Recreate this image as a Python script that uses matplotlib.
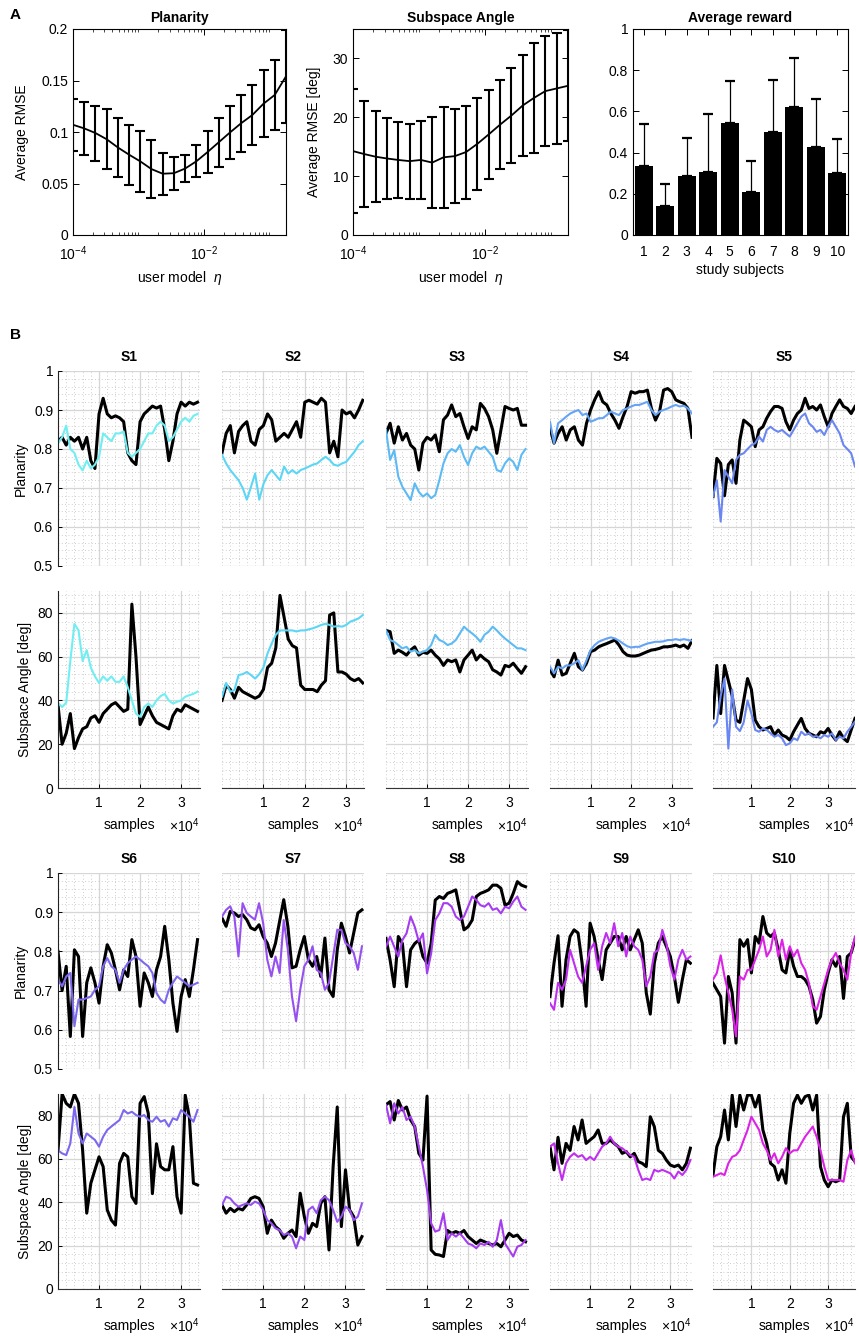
import numpy as np
import matplotlib.pyplot as plt
from matplotlib.ticker import MultipleLocator, FixedLocator, LogLocator, NullFormatter, FuncFormatter

plt.rcParams['font.family'] = ['Liberation Sans', 'DejaVu Sans']
plt.rcParams['mathtext.fontset'] = 'custom'
plt.rcParams['mathtext.rm'] = 'Liberation Sans'
plt.rcParams['mathtext.it'] = 'Liberation Sans:italic'

# ---------------- panel A data ----------------
eta = [1.0e-4, 1.483e-4, 2.201e-4, 3.265e-4, 4.843e-4, 7.185e-4, 1.066e-3, 1.581e-3,
       2.346e-3, 3.480e-3, 5.164e-3, 7.661e-3, 1.137e-2, 1.686e-2, 2.502e-2, 3.711e-2,
       5.506e-2, 8.169e-2, 0.1212, 0.1798]
plan_rmse = [0.107, 0.1035, 0.099, 0.093, 0.085, 0.078, 0.0715, 0.064, 0.0595, 0.060,
             0.0645, 0.0715, 0.0805, 0.090, 0.0995, 0.1085, 0.1165, 0.1275, 0.136, 0.154]
plan_rmse_sd = [0.025, 0.0255, 0.0267, 0.029, 0.029, 0.029, 0.0295, 0.028, 0.0205, 0.016,
                0.0135, 0.0155, 0.0205, 0.024, 0.0255, 0.0275, 0.0295, 0.0325, 0.034, 0.045]
angle_rmse = [14.25, 13.75, 13.3, 13.0, 12.75, 12.55, 12.75, 12.3, 13.2, 13.4,
              14.1, 15.5, 17.1, 18.75, 20.3, 22.0, 23.3, 24.45, 24.9, 25.35]
angle_rmse_sd = [10.55, 8.95, 7.7, 6.9, 6.45, 6.35, 6.7, 7.7, 8.6, 8.0,
                 7.9, 7.8, 7.6, 7.6, 8.0, 8.6, 9.3, 9.35, 9.4, 9.45]
subjects = [1, 2, 3, 4, 5, 6, 7, 8, 9, 10]
reward = [0.337, 0.141, 0.287, 0.308, 0.546, 0.211, 0.502, 0.621, 0.429, 0.301]
reward_sd = [0.203, 0.109, 0.183, 0.277, 0.204, 0.147, 0.252, 0.238, 0.231, 0.167]

# ---------------- panel B data (one value every 1000 samples) ----------------
sample_step = 1000
x_end = [3.46e4, 3.43e4, 3.46e4, 3.5e4, 3.7e4, 3.46e4, 3.45e4, 3.46e4, 3.54e4, 3.7e4]

plan_user_s1 = [0.82, 0.83, 0.81, 0.83, 0.82, 0.83, 0.80, 0.83, 0.77, 0.75, 0.89, 0.93, 0.89, 0.88,
                0.885, 0.88, 0.87, 0.79, 0.77, 0.76, 0.87, 0.89, 0.90, 0.91, 0.905, 0.91, 0.85,
                0.77, 0.82, 0.89, 0.92, 0.91, 0.92, 0.915, 0.92]
plan_model_s1 = [0.815, 0.83, 0.86, 0.80, 0.79, 0.76, 0.745, 0.77, 0.75, 0.76, 0.78, 0.84, 0.83,
                 0.82, 0.84, 0.84, 0.845, 0.79, 0.78, 0.79, 0.80, 0.82, 0.84, 0.84, 0.86, 0.87,
                 0.86, 0.82, 0.83, 0.85, 0.87, 0.88, 0.87, 0.885, 0.89]
ang_user_s1 = [38, 20, 25, 34, 18, 23, 27, 28, 32, 33, 30, 34, 36, 38, 39, 37, 35, 36, 84, 60,
               29, 33, 37, 33, 30, 29, 28, 27, 33, 36, 35, 38, 37, 36, 35]
ang_model_s1 = [39, 37, 39, 58, 75, 72, 58, 63, 55, 51, 48, 51, 49, 51, 48.5, 48.5, 51, 46, 40,
                34, 32.5, 37, 38.6, 37, 40, 42, 43, 40, 38.6, 39.4, 40, 41.7, 42.4, 43, 44]

plan_user_s2 = [0.79, 0.84, 0.86, 0.79, 0.845, 0.86, 0.87, 0.82, 0.81, 0.85, 0.86, 0.89, 0.875,
                0.82, 0.83, 0.84, 0.83, 0.85, 0.87, 0.83, 0.92, 0.925, 0.92, 0.915, 0.93, 0.92,
                0.79, 0.82, 0.78, 0.90, 0.89, 0.895, 0.88, 0.90, 0.925]
plan_model_s2 = [0.785, 0.763, 0.746, 0.733, 0.72, 0.70, 0.67, 0.703, 0.737, 0.67, 0.71, 0.733,
                 0.746, 0.733, 0.72, 0.755, 0.737, 0.746, 0.737, 0.746, 0.75, 0.755, 0.76, 0.763,
                 0.772, 0.78, 0.772, 0.76, 0.757, 0.763, 0.767, 0.78, 0.793, 0.81, 0.82]
ang_user_s2 = [40, 47, 45, 41, 46, 44, 43, 42, 41, 42, 45, 55, 57, 64, 88, 78, 68, 65, 64, 47,
               45, 45, 45, 44, 47, 49, 79, 80, 53, 53, 52, 50, 49, 50, 48]
ang_model_s2 = [41.7, 48, 44, 44.7, 51.6, 52, 53, 51.6, 50, 52, 55, 61.5, 66, 70, 72, 72, 72, 72,
                71.5, 72, 72, 72.5, 73, 73.7, 74.5, 75, 74.5, 73.7, 74, 73.7, 74.5, 76, 76.7,
                77.5, 79]

plan_user_s3 = [0.84, 0.866, 0.815, 0.857, 0.823, 0.84, 0.81, 0.80, 0.746, 0.815, 0.83, 0.823,
                0.836, 0.793, 0.875, 0.887, 0.913, 0.883, 0.891, 0.857, 0.827, 0.857, 0.849,
                0.917, 0.904, 0.883, 0.849, 0.789, 0.849, 0.909, 0.904, 0.90, 0.904, 0.861, 0.861]
plan_model_s3 = [0.849, 0.772, 0.797, 0.729, 0.703, 0.686, 0.669, 0.712, 0.69, 0.678, 0.686,
                 0.674, 0.682, 0.72, 0.763, 0.789, 0.80, 0.793, 0.81, 0.78, 0.759, 0.789, 0.806,
                 0.80, 0.806, 0.793, 0.78, 0.746, 0.742, 0.763, 0.776, 0.767, 0.746, 0.785, 0.80]
ang_user_s3 = [72, 71.4, 61.5, 63, 62, 60.7, 63, 64.5, 60.7, 62, 61.5, 63, 60.7, 59, 56, 58.5,
               57.7, 58.5, 53, 58.5, 60.7, 63, 58.5, 60.7, 59, 57.7, 54, 53, 51.6, 56, 55.4, 57,
               54.6, 52.4, 55.4]
ang_model_s3 = [72, 67.6, 66.8, 65.3, 63.8, 64.5, 62.3, 63, 61.5, 62.3, 63, 65.3, 70, 67.6, 66.8,
                65.3, 66, 67.6, 70.6, 73.7, 72, 70.6, 69, 66.8, 70, 71.4, 73.7, 72, 70, 68.3,
                66.8, 65.3, 63.8, 63.8, 63]

plan_user_s4 = [0.853, 0.815, 0.84, 0.857, 0.823, 0.849, 0.857, 0.823, 0.81, 0.866, 0.90, 0.926,
                0.947, 0.921, 0.913, 0.891, 0.874, 0.853, 0.883, 0.909, 0.947, 0.943, 0.947,
                0.947, 0.951, 0.904, 0.874, 0.896, 0.951, 0.955, 0.947, 0.926, 0.921, 0.917,
                0.904, 0.83]
plan_model_s4 = [0.87, 0.815, 0.866, 0.874, 0.883, 0.891, 0.896, 0.90, 0.887, 0.891, 0.87, 0.874,
                 0.879, 0.879, 0.887, 0.896, 0.891, 0.887, 0.90, 0.904, 0.909, 0.913, 0.913,
                 0.917, 0.921, 0.90, 0.887, 0.896, 0.90, 0.904, 0.909, 0.913, 0.909, 0.911,
                 0.904, 0.891]
ang_user_s4 = [53.9, 50.8, 58.4, 51.6, 52.4, 57, 61.5, 55.4, 53.9, 57, 62.3, 63, 64.5, 65.3, 66,
               66.8, 67.6, 65.3, 62.3, 60.7, 60.3, 60.3, 60.7, 61.5, 62.3, 63, 63.3, 63.8, 64.5,
               64.5, 64.8, 65.3, 64.5, 65.3, 63.8, 67.3]
ang_model_s4 = [55.4, 52.4, 55.4, 54.6, 56, 56, 57, 58.4, 53.9, 58.4, 63, 65.3, 66.8, 67.6, 68.3,
                68.8, 68.3, 67.3, 66, 64.8, 64.2, 64.5, 64.5, 65.3, 66, 66.4, 66.8, 66.8, 67,
                67.6, 67.6, 68, 67.6, 68, 67.6, 67.3]

plan_user_s5 = [0.678, 0.776, 0.763, 0.68, 0.76, 0.772, 0.712, 0.823, 0.874, 0.866, 0.857, 0.806,
                0.849, 0.857, 0.879, 0.896, 0.909, 0.909, 0.904, 0.87, 0.849, 0.874, 0.891, 0.90,
                0.93, 0.904, 0.909, 0.90, 0.913, 0.883, 0.857, 0.891, 0.909, 0.926, 0.909, 0.904,
                0.891, 0.909]
plan_model_s5 = [0.678, 0.72, 0.614, 0.746, 0.729, 0.712, 0.772, 0.785, 0.789, 0.80, 0.81, 0.815,
                 0.832, 0.819, 0.849, 0.857, 0.849, 0.844, 0.849, 0.84, 0.832, 0.849, 0.866,
                 0.883, 0.891, 0.866, 0.857, 0.844, 0.849, 0.836, 0.857, 0.874, 0.857, 0.84,
                 0.81, 0.80, 0.789, 0.755]
ang_user_s5 = [32, 56, 34, 56, 49, 42, 31, 30, 40, 50, 45, 31, 28, 26.5, 27.2, 28, 24.2, 26.5,
               24.2, 23.4, 21.9, 25.7, 28.8, 31.8, 27.2, 25, 24.2, 23.4, 25.7, 25, 27.2, 24.2,
               21.9, 25.7, 22.7, 21.2, 26.5, 31.8]
ang_model_s5 = [28, 30, 42, 50, 18, 45, 28, 26, 30, 40, 34, 26.5, 25.7, 27.2, 26.5, 25, 23.4,
                24.2, 22.7, 19.6, 20.4, 22.7, 21.9, 25.7, 24.2, 25, 23.4, 23.7, 22.7, 24.2, 23.4,
                25, 21.9, 23.4, 22.7, 25.7, 28, 30.3]

plan_user_s6 = [0.80, 0.70, 0.762, 0.583, 0.804, 0.787, 0.583, 0.72, 0.758, 0.72, 0.668, 0.762,
                0.817, 0.796, 0.753, 0.702, 0.753, 0.736, 0.83, 0.787, 0.66, 0.745, 0.72, 0.685,
                0.753, 0.787, 0.864, 0.779, 0.668, 0.596, 0.685, 0.728, 0.685, 0.753, 0.83]
plan_model_s6 = [0.728, 0.711, 0.736, 0.745, 0.609, 0.677, 0.677, 0.681, 0.685, 0.702, 0.711,
                 0.762, 0.783, 0.762, 0.753, 0.72, 0.753, 0.77, 0.779, 0.787, 0.779, 0.77, 0.762,
                 0.745, 0.694, 0.677, 0.668, 0.702, 0.72, 0.736, 0.728, 0.72, 0.711, 0.715, 0.72]
ang_user_s6 = [64, 90, 85.7, 84, 90, 85.7, 64, 35, 48.8, 55, 61, 56.5, 36.5, 31.8, 29.5, 58,
               62.6, 61, 42.6, 39.5, 85.7, 88.8, 81, 44, 67, 56.5, 55, 55, 65.7, 42.6, 35, 89.5,
               79.5, 48.8, 48]
ang_model_s6 = [64, 62.6, 61.8, 67.2, 84, 71.8, 67.2, 71.8, 70.3, 68.8, 65.7, 70.3, 73.4, 75,
                76.5, 78, 82.6, 81, 81.8, 80.3, 79.5, 80.3, 78, 77.2, 79.5, 77.2, 78, 75, 78.8,
                78, 82.6, 81, 79.5, 77.2, 82.6]

plan_user_s7 = [0.885, 0.864, 0.902, 0.898, 0.889, 0.894, 0.881, 0.86, 0.855, 0.868, 0.838,
                0.821, 0.787, 0.821, 0.877, 0.932, 0.864, 0.758, 0.762, 0.804, 0.838, 0.779,
                0.762, 0.787, 0.736, 0.834, 0.702, 0.685, 0.804, 0.872, 0.838, 0.796, 0.847,
                0.898, 0.906]
plan_model_s7 = [0.889, 0.906, 0.915, 0.889, 0.787, 0.923, 0.898, 0.889, 0.881, 0.923, 0.872,
                 0.779, 0.736, 0.787, 0.745, 0.88, 0.804, 0.685, 0.622, 0.702, 0.762, 0.779,
                 0.813, 0.753, 0.745, 0.702, 0.72, 0.787, 0.855, 0.855, 0.821, 0.813, 0.796,
                 0.753, 0.813]
ang_user_s7 = [38.8, 35, 37.2, 35.7, 37.2, 36.5, 38.8, 41.8, 42.6, 41.8, 38, 25.7, 31.8, 28.8,
               27.2, 23.4, 25.7, 27.2, 24.2, 44.2, 33.4, 25.7, 30.3, 28.8, 39.5, 42.6, 18, 56.5,
               84, 28.8, 55, 36.5, 33.4, 20.3, 24.2]
ang_model_s7 = [38.8, 42.6, 41.8, 39.5, 38, 38.8, 39.5, 38.8, 40.3, 39.5, 36.5, 31.8, 30.3, 28,
                27.2, 25, 25.7, 24.2, 18.8, 24.2, 22.6, 36.5, 38, 35, 41, 42.6, 41, 36.5, 31,
                33.4, 38, 36.5, 31.8, 33.4, 39.5]

plan_user_s8 = [0.833, 0.778, 0.71, 0.838, 0.82, 0.71, 0.804, 0.82, 0.829, 0.787, 0.77, 0.82,
                0.931, 0.94, 0.935, 0.948, 0.952, 0.957, 0.906, 0.855, 0.863, 0.88, 0.94, 0.948,
                0.952, 0.957, 0.969, 0.969, 0.961, 0.918, 0.923, 0.948, 0.978, 0.969, 0.965]
plan_model_s8 = [0.812, 0.838, 0.812, 0.787, 0.829, 0.846, 0.889, 0.863, 0.825, 0.846, 0.744,
                 0.795, 0.88, 0.897, 0.923, 0.923, 0.914, 0.889, 0.88, 0.889, 0.914, 0.94,
                 0.931, 0.918, 0.914, 0.923, 0.906, 0.91, 0.897, 0.914, 0.91, 0.927, 0.94,
                 0.914, 0.906]
ang_user_s8 = [85, 86.5, 78, 87, 82.6, 84, 78, 75, 62.6, 59.5, 89, 18, 16, 15.7, 15, 27, 25.7,
               26.5, 25.7, 27, 24.2, 22.6, 21, 22.6, 21.8, 21, 20.3, 21, 19.5, 22.6, 25.7, 24.2,
               24.9, 22.6, 21.8]
ang_model_s8 = [85, 76.5, 85.7, 81, 84, 78, 79.5, 75, 65.7, 56.5, 45.7, 30.3, 26.5, 27.2, 35,
                22.6, 25.7, 24.2, 25.7, 23.4, 21, 20.3, 18.8, 21, 20.3, 21.8, 19.5, 22.6, 31.8,
                21, 18, 15, 19.5, 20.3, 22.6]

plan_user_s9 = [0.685, 0.77, 0.84, 0.66, 0.779, 0.838, 0.855, 0.847, 0.77, 0.66, 0.872, 0.838,
                0.779, 0.728, 0.804, 0.821, 0.838, 0.838, 0.804, 0.838, 0.804, 0.83, 0.855,
                0.821, 0.694, 0.64, 0.77, 0.821, 0.838, 0.813, 0.787, 0.736, 0.67, 0.728, 0.779,
                0.77]
plan_model_s9 = [0.668, 0.651, 0.72, 0.702, 0.728, 0.804, 0.77, 0.736, 0.72, 0.762, 0.804,
                 0.821, 0.753, 0.813, 0.847, 0.821, 0.872, 0.813, 0.847, 0.787, 0.838, 0.813,
                 0.804, 0.779, 0.711, 0.736, 0.796, 0.804, 0.855, 0.821, 0.762, 0.728, 0.779,
                 0.804, 0.779, 0.787]
ang_user_s9 = [65.7, 55, 70, 58, 67.2, 64, 75, 68.8, 78, 67.2, 68.8, 70.3, 73.4, 67.2, 67.2,
               68.8, 67.2, 65.7, 62.6, 63.4, 61, 62.6, 58.8, 58, 56.5, 79.5, 75, 64, 62.6, 59.5,
               57.2, 56.5, 57.2, 55, 58, 65]
ang_model_s9 = [65.7, 67.2, 58, 50.3, 58, 61, 62.6, 61, 61.8, 59.5, 61, 59.5, 62.6, 65.7, 67.2,
                70.3, 67.2, 65.7, 65, 63.4, 61.8, 61, 55, 50.3, 51, 50.3, 55, 54.2, 55, 54.2,
                53.4, 51, 54.2, 52.6, 55, 59.5]

plan_user_s10 = [0.719, 0.702, 0.685, 0.566, 0.736, 0.694, 0.566, 0.83, 0.813, 0.83, 0.745,
                 0.838, 0.821, 0.889, 0.847, 0.838, 0.847, 0.804, 0.753, 0.745, 0.804, 0.762,
                 0.736, 0.736, 0.728, 0.711, 0.677, 0.617, 0.634, 0.702, 0.745, 0.779, 0.762,
                 0.787, 0.68, 0.787, 0.796, 0.83]
plan_model_s10 = [0.728, 0.745, 0.79, 0.736, 0.694, 0.651, 0.583, 0.736, 0.728, 0.753, 0.753,
                  0.779, 0.804, 0.838, 0.787, 0.804, 0.855, 0.787, 0.83, 0.779, 0.813, 0.787,
                  0.804, 0.77, 0.753, 0.719, 0.66, 0.651, 0.685, 0.719, 0.753, 0.779, 0.796,
                  0.77, 0.753, 0.728, 0.796, 0.838]
ang_user_s10 = [52.6, 65.7, 70.3, 82.6, 68.8, 89.5, 75, 89.5, 82.6, 89.5, 89.5, 84, 89.5, 73.4,
                67.2, 58, 56.5, 50.3, 55, 48.8, 71.8, 85.7, 89.5, 85.7, 88.8, 89.5, 82.6, 89.5,
                56.5, 50.3, 47.2, 50.3, 49.5, 50.3, 79.5, 85.7, 61, 58.8]
ang_model_s10 = [51.8, 52.6, 53.4, 52.6, 58, 61, 61.8, 64, 68.8, 73.4, 79.5, 76.5, 73.4, 67.2,
                 64, 59.5, 62.6, 58, 61, 65, 62.6, 64, 64, 67.2, 70.3, 72.6, 75, 70.3, 64, 56.5,
                 50.3, 50.3, 50.3, 50.3, 49.5, 59.5, 64, 58]

subject_names = ['S1', 'S2', 'S3', 'S4', 'S5', 'S6', 'S7', 'S8', 'S9', 'S10']
subject_colors = ['#70EEF2', '#5CD6F5', '#5CBAF5', '#65A3F5', '#6A86F0',
                  '#7B68EE', '#9650F0', '#A63CF0', '#C02EF0', '#DD22E8']

plan_user = [plan_user_s1, plan_user_s2, plan_user_s3, plan_user_s4, plan_user_s5,
             plan_user_s6, plan_user_s7, plan_user_s8, plan_user_s9, plan_user_s10]
plan_model = [plan_model_s1, plan_model_s2, plan_model_s3, plan_model_s4, plan_model_s5,
              plan_model_s6, plan_model_s7, plan_model_s8, plan_model_s9, plan_model_s10]
ang_user = [ang_user_s1, ang_user_s2, ang_user_s3, ang_user_s4, ang_user_s5,
            ang_user_s6, ang_user_s7, ang_user_s8, ang_user_s9, ang_user_s10]
ang_model = [ang_model_s1, ang_model_s2, ang_model_s3, ang_model_s4, ang_model_s5,
             ang_model_s6, ang_model_s7, ang_model_s8, ang_model_s9, ang_model_s10]

# ---------------- figure ----------------
W, H = 859, 1339
fig = plt.figure(figsize=(W / 100, H / 100), dpi=100)
FS = 10


def box(l, t, r, b):
    # axes from pixel edges (left, top, right, bottom)
    return fig.add_axes([l / W, 1 - b / H, (r - l) / W, (b - t) / H])


def style_a(ax):
    ax.tick_params(which='both', direction='in', top=True, right=True, labelsize=FS)
    ax.tick_params(which='major', length=4, width=0.7)
    ax.tick_params(which='minor', length=2, width=0.5)
    ax.tick_params(axis='x', which='major', pad=7)
    for s in ax.spines.values():
        s.set_linewidth(0.8)


def log_x(ax):
    ax.set_xscale('log')
    ax.set_xlim(1e-4, 0.18)
    ax.set_xticks([1e-4, 1e-2])
    ax.set_xticklabels([r'$10^{-4}$', r'$10^{-2}$'])
    ax.xaxis.set_minor_locator(LogLocator(base=10, subs=np.arange(1, 10), numticks=50))
    ax.xaxis.set_minor_formatter(NullFormatter())
    ax.set_xlabel(r'user model  $\eta$', fontsize=FS, labelpad=4)


# Planarity RMSE
ax = box(73, 29, 286, 235)
ax.errorbar(eta, plan_rmse, yerr=plan_rmse_sd, color='k', lw=1.3, elinewidth=1.5,
            capsize=3.5, capthick=1.5)
log_x(ax)
ax.set_ylim(0, 0.2)
ax.set_yticks([0, 0.05, 0.1, 0.15, 0.2])
ax.set_yticklabels(['0', '0.05', '0.1', '0.15', '0.2'])
ax.set_ylabel('Average RMSE', fontsize=FS, labelpad=9)
ax.set_title('Planarity', fontsize=FS, fontweight='bold', pad=5)
style_a(ax)

# Subspace angle RMSE
ax = box(353, 29, 568, 235)
ax.errorbar(eta, angle_rmse, yerr=angle_rmse_sd, color='k', lw=1.3, elinewidth=1.5,
            capsize=3.5, capthick=1.5)
log_x(ax)
ax.set_ylim(0, 35)
ax.set_yticks([0, 10, 20, 30])
ax.set_ylabel('Average RMSE [deg]', fontsize=FS, labelpad=8)
ax.set_title('Subspace Angle', fontsize=FS, fontweight='bold', pad=5)
style_a(ax)

# Average reward
ax = box(633, 29, 848, 235)
ax.bar(subjects, reward, width=0.82, color='k')
ax.errorbar(subjects, reward, yerr=[np.zeros(len(reward)), reward_sd], fmt='none',
            ecolor='k', elinewidth=0.9, capsize=3.5, capthick=1.6)
ax.set_xlim(0.5, 10.5)
ax.set_ylim(0, 1)
ax.set_xticks(subjects)
ax.set_yticks([0, 0.2, 0.4, 0.6, 0.8, 1])
ax.set_yticklabels(['0', '0.2', '0.4', '0.6', '0.8', '1'])
ax.set_xlabel('study subjects', fontsize=FS, labelpad=3)
ax.set_title('Average reward', fontsize=FS, fontweight='bold', pad=5)
style_a(ax)

fig.text(10 / W, 1 - 15 / H, 'A', fontsize=11, fontweight='bold', va='center')
fig.text(10 / W, 1 - 335 / H, 'B', fontsize=11, fontweight='bold', va='center')

# ---------------- panel B ----------------
col_left = [58, 222, 386, 550, 713]
col_w = 142
groups = [(371, 566, 591, 788), (873, 1069, 1094, 1289)]
gfmt = FuncFormatter(lambda v, p: '%g' % round(v, 3))


def style_b(ax, col, bottom_row, x_max):
    ax.set_xlim(0, x_max)
    ax.xaxis.set_major_locator(FixedLocator([1e4, 2e4, 3e4]))
    ax.xaxis.set_minor_locator(MultipleLocator(2000))
    ax.grid(which='major', color='#d6d6d6', lw=0.9, ls='-')
    ax.grid(which='minor', color='#bdbdbd', lw=0.6, ls=(0, (1, 3)))
    ax.set_axisbelow(True)
    ax.spines['top'].set_visible(False)
    ax.spines['right'].set_visible(False)
    ax.spines['left'].set_visible(col == 0)
    ax.spines['bottom'].set_visible(bottom_row)
    ax.spines['left'].set_color('#222222')
    ax.spines['bottom'].set_color('#333333')
    ax.tick_params(which='minor', length=0)
    ax.tick_params(which='major', direction='in', length=3, width=0.7, labelsize=FS)
    ax.tick_params(axis='y', left=(col == 0), labelleft=(col == 0))
    ax.tick_params(axis='x', bottom=bottom_row, labelbottom=bottom_row, pad=6)
    ax.yaxis.set_major_formatter(gfmt)
    if bottom_row:
        ax.set_xticklabels(['1', '2', '3'])
        ax.text(0.5, -0.19, 'samples', transform=ax.transAxes, ha='center', va='center',
                fontsize=FS)
        ax.text(1.0, -0.19, r'$\times10^{4}$', transform=ax.transAxes, ha='right',
                va='center', fontsize=FS)


for i in range(10):
    g, col = divmod(i, 5)
    p_top, p_bot, a_top, a_bot = groups[g]
    l = col_left[col]
    color = subject_colors[i]

    ax = box(l, p_top, l + col_w, p_bot)
    xs = np.arange(len(plan_user[i])) * sample_step
    ax.plot(xs, plan_user[i], color='k', lw=2.2, solid_joinstyle='round')
    ax.plot(xs, plan_model[i], color=color, lw=1.5, solid_joinstyle='round')
    ax.set_ylim(0.5, 1.0)
    ax.yaxis.set_major_locator(MultipleLocator(0.1))
    ax.yaxis.set_minor_locator(MultipleLocator(0.02))
    style_b(ax, col, False, x_end[i])
    ax.set_title(subject_names[i], fontsize=FS, fontweight='bold', pad=7)
    if col == 0:
        ax.set_ylabel('Planarity', fontsize=FS)

    ax = box(l, a_top, l + col_w, a_bot)
    xs = np.arange(len(ang_user[i])) * sample_step
    ax.plot(xs, ang_user[i], color='k', lw=2.2, solid_joinstyle='round')
    ax.plot(xs, ang_model[i], color=color, lw=1.5, solid_joinstyle='round')
    ax.set_ylim(0, 90)
    ax.yaxis.set_major_locator(FixedLocator([0, 20, 40, 60, 80]))
    ax.yaxis.set_minor_locator(MultipleLocator(4))
    style_b(ax, col, True, x_end[i])
    if col == 0:
        ax.set_ylabel('Subspace Angle [deg]', fontsize=FS)

fig.savefig('out.png', dpi=100)
